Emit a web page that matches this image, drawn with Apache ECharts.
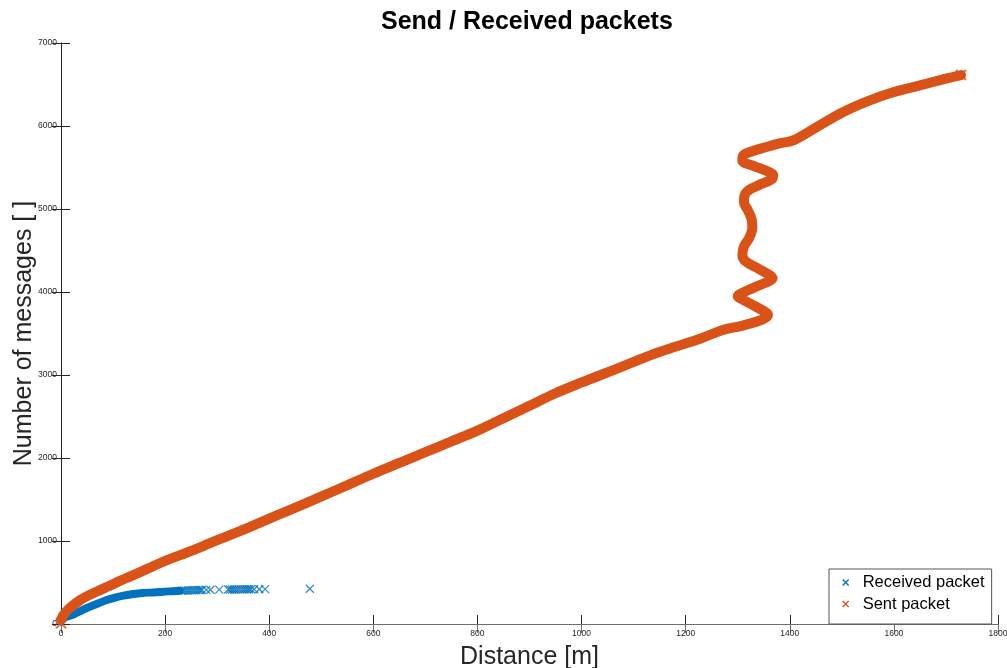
<!DOCTYPE html>
<html>
<head>
<meta charset="utf-8">
<title>Send / Received packets</title>
<script src="https://cdn.jsdelivr.net/npm/echarts/dist/echarts.min.js"></script>
<style>
  html, body { margin: 0; padding: 0; background: #ffffff; }
  #chart { width: 1007px; height: 668px; }
</style>
</head>
<body>
<div id="chart"></div>
<script>
// Distance [m] and cumulative message counts for sent packets
const sentDist = [0, 4, 10, 20, 35, 50, 70, 88, 110, 130, 152, 175, 200, 229, 250, 285, 320, 360, 400, 440,
  472, 520, 560, 600, 650, 700, 750, 800, 850, 900, 950, 1000, 1037, 1085, 1133, 1180, 1229, 1270, 1306, 1340,
  1354, 1358, 1350, 1330, 1306, 1300, 1306, 1330, 1360, 1367, 1362, 1340, 1315, 1309, 1312, 1322, 1328, 1327, 1319, 1312,
  1313, 1322, 1345, 1367, 1368, 1355, 1330, 1309, 1310, 1325, 1357, 1380, 1408, 1450, 1500, 1550, 1600, 1650, 1700, 1729];
const sentCount = [50, 100, 150, 210, 280, 335, 395, 445, 510, 565, 625, 690, 760, 830, 880, 970, 1060, 1160, 1270, 1375,
  1460, 1590, 1700, 1810, 1940, 2070, 2200, 2330, 2480, 2630, 2780, 2910, 3000, 3120, 3240, 3340, 3440, 3540, 3590, 3650,
  3690, 3730, 3770, 3840, 3920, 3950, 3980, 4050, 4130, 4165, 4200, 4280, 4370, 4450, 4550, 4650, 4770, 4870, 4990, 5080,
  5160, 5230, 5300, 5370, 5410, 5460, 5520, 5580, 5640, 5690, 5750, 5790, 5830, 5980, 6160, 6300, 6410, 6490, 6570, 6614];

// Received packets: dense run near the sender
const recvDist = [0, 4, 10, 24, 40, 56, 72, 88, 104, 120, 136, 152, 168, 184, 200, 216, 228];
const recvCount = [30, 60, 85, 115, 165, 210, 250, 289, 318, 341, 358, 370, 378, 383, 390, 396, 400];

// Received packets: individual markers further out
const recvMarkDist = [232, 236, 240, 244, 248, 252, 256, 260, 264, 268, 271, 279, 287, 304, 321, 325, 329, 333, 337, 341,
  345, 349, 353, 357, 361, 365, 371, 381, 392, 478];
const recvMarkCount = [401, 402, 403, 404, 405, 406, 407, 408, 409, 410, 410, 411, 412, 414, 415, 415, 416, 416, 416, 417,
  417, 417, 418, 418, 418, 418, 419, 419, 420, 424];

const xTicks = { min: 0, max: 1800, step: 200 };
const yTicks = { min: 0, max: 7000, step: 1000 };

const BLUE = '#0072BD';
const ORANGE = '#D95319';
const AXIS = '#262626';
const FONT = '"Liberation Sans", Arial, Helvetica, sans-serif';
const CROSS = 'path://M0,0L8,8M8,0L0,8';
const LEGEND_CROSS = 'path://M0,0M16,8M1,1L7,7M7,1L1,7';

const zip = (xs, ys) => xs.map((x, i) => [x, ys[i]]);
const plain = (v) => String(v);

function valueAxis(range, extra) {
  return Object.assign({
    type: 'value',
    min: range.min,
    max: range.max,
    interval: range.step,
    splitLine: { show: false },
    axisLine: { show: true, lineStyle: { color: AXIS, width: 1 } },
    axisTick: { show: true, inside: true, length: 9, lineStyle: { color: AXIS, width: 1 } },
    axisLabel: { show: true, color: AXIS, fontSize: 8.5, fontFamily: FONT, formatter: plain }
  }, extra);
}

const chart = echarts.init(document.getElementById('chart'), null, { renderer: 'canvas' });

chart.setOption({
  animation: false,
  backgroundColor: '#ffffff',
  title: {
    text: 'Send / Received packets',
    left: 381,
    top: 10,
    padding: 0,
    textStyle: { fontFamily: FONT, fontSize: 25, fontWeight: 'bold', color: '#000000' }
  },
  grid: { left: 61, right: 9, top: 43, bottom: 44, containLabel: false, outerBoundsMode: 'none' },
  xAxis: [
    valueAxis(xTicks, {
      position: 'bottom',
      name: 'Distance [m]',
      nameLocation: 'middle',
      nameGap: 21,
      nameMoveOverlap: false,
      nameTextStyle: { fontFamily: FONT, fontSize: 25, color: AXIS },
      axisLabel: { show: true, color: AXIS, fontSize: 8.5, fontFamily: FONT, margin: 5, formatter: plain }
    }),
    valueAxis(xTicks, {
      position: 'top',
      axisLine: { show: true, lineStyle: { color: '#6f6f6f', width: 1 } },
      axisTick: { show: true, inside: true, length: 9, lineStyle: { color: '#6f6f6f', width: 1 } },
      axisLabel: { show: false }
    })
  ],
  yAxis: [
    valueAxis(yTicks, {
      position: 'left',
      name: 'Number of messages [ ]',
      nameLocation: 'middle',
      nameGap: 24,
      nameMoveOverlap: false,
      nameTextStyle: { fontFamily: FONT, fontSize: 25, color: AXIS },
      axisLine: { show: true, lineStyle: { color: '#6f6f6f', width: 1 } },
      axisLabel: { show: true, color: AXIS, fontSize: 8.5, fontFamily: FONT, margin: 4, formatter: plain }
    }),
    valueAxis(yTicks, {
      position: 'right',
      axisLabel: { show: false }
    })
  ],
  legend: {
    orient: 'vertical',
    left: 829,
    top: 569,
    padding: [5, 7, 11.5, 12],
    itemGap: 4.5,
    itemWidth: 16,
    itemHeight: 8,
    backgroundColor: '#ffffff',
    borderColor: '#555555',
    borderWidth: 1,
    borderRadius: 0,
    textStyle: { fontFamily: FONT, fontSize: 16.5, color: '#000000' },
    data: [
      { name: 'Received packet', icon: LEGEND_CROSS,
        itemStyle: { color: BLUE, borderColor: BLUE, borderWidth: 1.3 } },
      { name: 'Sent packet', icon: LEGEND_CROSS,
        itemStyle: { color: ORANGE, borderColor: ORANGE, borderWidth: 1.3 } }
    ]
  },
  series: [
    {
      name: 'Received packet',
      type: 'line',
      data: zip(recvDist, recvCount),
      showSymbol: false,
      smooth: 0.3,
      lineStyle: { color: BLUE, width: 8, cap: 'round', join: 'round' },
      itemStyle: { color: BLUE },
      z: 2
    },
    {
      name: 'Received packet',
      type: 'scatter',
      data: zip(recvMarkDist, recvMarkCount),
      symbol: CROSS,
      symbolSize: 8,
      itemStyle: { color: BLUE, borderColor: BLUE, borderWidth: 1.3 },
      z: 2
    },
    {
      name: 'Sent packet',
      type: 'line',
      data: zip(sentDist, sentCount),
      showSymbol: false,
      smooth: 0.35,
      lineStyle: { color: ORANGE, width: 10, cap: 'round', join: 'round' },
      itemStyle: { color: ORANGE },
      z: 3
    },
    {
      name: 'Sent packet',
      type: 'scatter',
      data: [[sentDist[0], sentCount[0] - 40], [sentDist[sentDist.length - 1], sentCount[sentCount.length - 1]]],
      symbol: CROSS,
      symbolSize: 10,
      itemStyle: { color: ORANGE, borderColor: ORANGE, borderWidth: 2 },
      z: 3
    }
  ]
});
</script>
</body>
</html>
